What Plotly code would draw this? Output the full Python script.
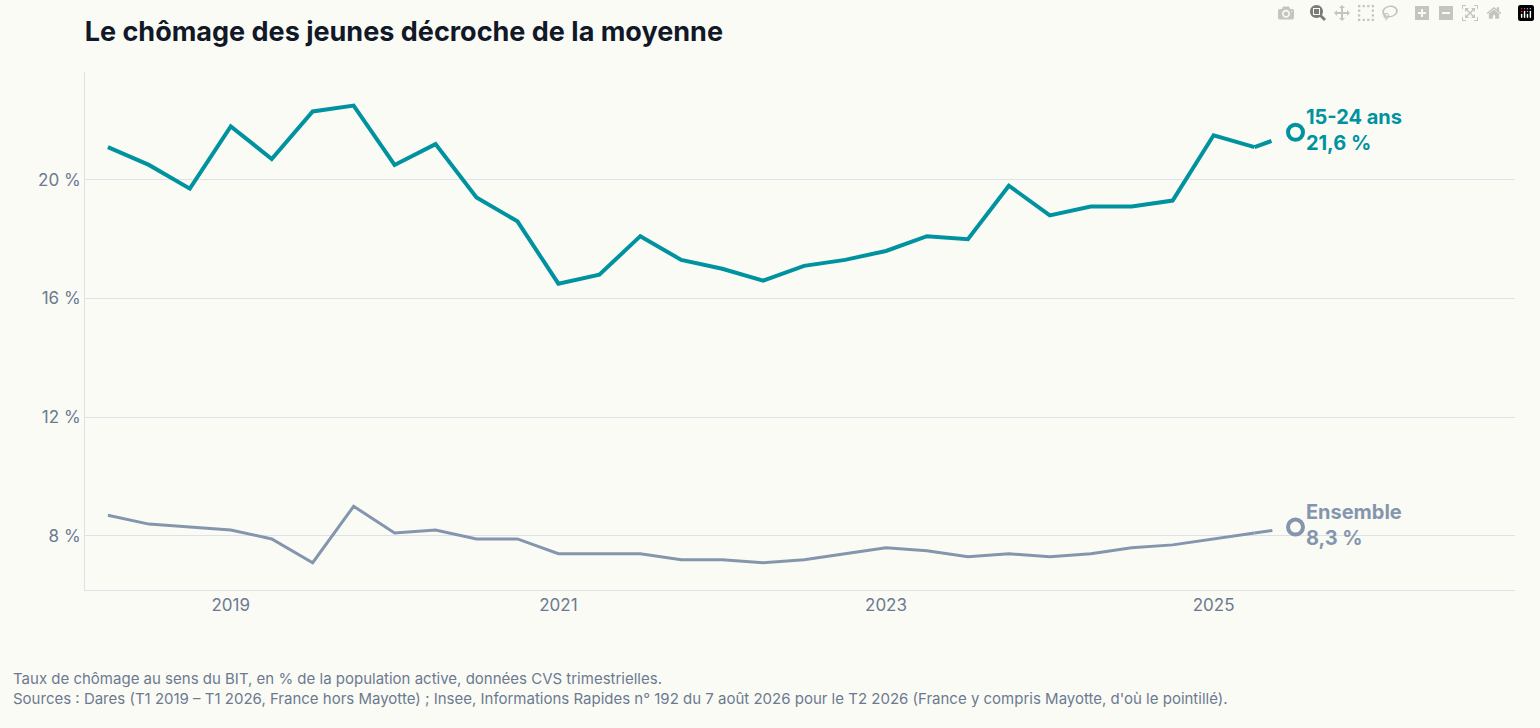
import plotly.graph_objects as go

dates = [2018.25 + 0.25 * i for i in range(30)]
jeunes = [21.1, 20.5, 19.7, 21.8, 20.7, 22.3, 22.5, 20.5, 21.2, 19.4, 18.6, 16.5, 16.8, 18.1,
          17.3, 17.0, 16.6, 17.1, 17.3, 17.6, 18.1, 18.0, 19.8, 18.8, 19.1, 19.1, 19.3, 21.5, 21.1, 21.6]
ensemble = [8.7, 8.4, 8.3, 8.2, 7.9, 7.1, 9.0, 8.1, 8.2, 7.9, 7.9, 7.4, 7.4, 7.4, 7.2, 7.2,
            7.1, 7.2, 7.4, 7.6, 7.5, 7.3, 7.4, 7.3, 7.4, 7.6, 7.7, 7.9, 8.1, 8.3]
tickvals_y = [8, 12, 16, 20]
ticktext_y = ["8 %", "12 %", "16 %", "20 %"]
tickvals_x = [2019, 2021, 2023, 2025]

TEAL = "#00939f"
GREY = "#8496ad"
FONT = "Inter"

fig = go.Figure()
for ys, col, w, lab in [(jeunes, TEAL, 4, "15-24 ans"), (ensemble, GREY, 3, "Ensemble")]:
    fig.add_trace(go.Scatter(x=dates[:-1], y=ys[:-1], mode="lines",
                             line=dict(color=col, width=w), hoverinfo="skip"))
    fig.add_trace(go.Scatter(x=dates[-2:], y=ys[-2:], mode="lines",
                             line=dict(color=col, width=w, dash="18px,200px"), hoverinfo="skip"))
    fig.add_trace(go.Scatter(x=[dates[-1]], y=[ys[-1]], mode="markers+text",
                             marker=dict(size=15, color="#fbfbf6", line=dict(color=col, width=4)),
                             text=[f"<b>{lab}<br>{str(ys[-1]).replace('.', ',')} %</b>"],
                             textposition="middle right",
                             textfont=dict(color=col, size=20, family=FONT), hoverinfo="skip"))

fig.update_layout(
    width=1540, height=728, showlegend=False,
    paper_bgcolor="#fbfbf6", plot_bgcolor="#fbfbf6",
    margin=dict(l=85, r=25, t=72, b=138),
    font=dict(family=FONT, color="#6b7a90"),
    title=dict(text="<b>Le chômage des jeunes décroche de la moyenne</b>", x=0.055, xanchor="left",
               y=0.956, yanchor="middle", font=dict(size=27, color="#111827", family=FONT)),
    xaxis=dict(range=[2018.11, 2026.84], tickvals=tickvals_x, ticktext=[str(v) for v in tickvals_x],
               showgrid=False, showline=True, linecolor="#dde1ea", ticks="", zeroline=False,
               tickfont=dict(size=17, color="#6b7a90")),
    yaxis=dict(range=[6.18, 23.63], tickvals=tickvals_y, ticktext=ticktext_y,
               gridcolor="#dde1ea", showline=True, linecolor="#dde1ea", zeroline=False,
               tickfont=dict(size=17, color="#6b7a90")),
    annotations=[dict(xref="paper", yref="paper", x=-0.052, y=-0.148, xanchor="left", yanchor="top",
                      align="left", showarrow=False, font=dict(size=15, color="#6b7a90"),
                      text="Taux de chômage au sens du BIT, en % de la population active, données CVS trimestrielles.<br>"
                           "Sources : Dares (T1 2019 – T1 2026, France hors Mayotte) ; Insee, Informations Rapides n° 192 du 7 août 2026 pour le T2 2026 (France y compris Mayotte, d'où le pointillé).")],
)
fig.write_html("out.html")

with open("out.html", encoding="utf-8") as f:
    html = f.read()
html = html.replace("<head>", "<head><style>html,body{margin:0;padding:0;background:#fbfbf6;overflow:hidden}</style>", 1)
with open("out.html", "w", encoding="utf-8") as f:
    f.write(html)
